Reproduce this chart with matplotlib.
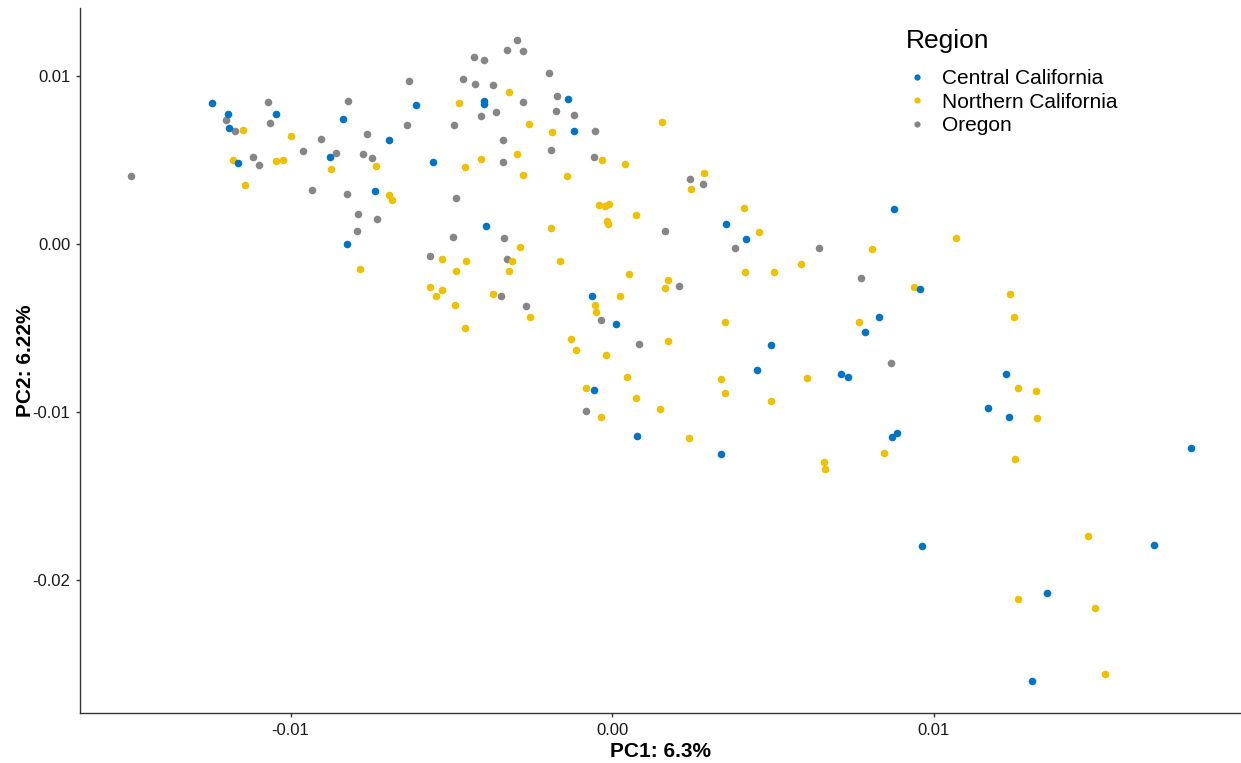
import matplotlib
matplotlib.use('Agg')
import matplotlib.pyplot as plt
from matplotlib.lines import Line2D

plt.rcParams['font.family'] = ['Liberation Sans', 'DejaVu Sans']

# PCA 坐标 (PC1, PC2)
central_x = [-0.01245, -0.01195, -0.01192, -0.01045, -0.01164, -0.00878, -0.00836, -0.00693,
             -0.00611, -0.00737, -0.00824, -0.00558, -0.00400, -0.00400, -0.00393, -0.00138,
             -0.00119, -0.00063, 0.00013, -0.00056, 0.00078, 0.00877, 0.00353, 0.00415,
             0.00958, 0.00830, 0.00786, 0.00493, 0.00450, 0.00712, 0.00733, 0.00338,
             0.00870, 0.00886, 0.01224, 0.01170, 0.01233, 0.01801, 0.00965, 0.01685,
             0.01352, 0.01305]
central_y = [0.00843, 0.00777, 0.00694, 0.00777, 0.00484, 0.00521, 0.00748, 0.00623,
             0.00831, 0.00317, 0.00002, 0.00492, 0.00851, 0.00835, 0.00107, 0.00867,
             0.00676, -0.00310, -0.00476, -0.00866, -0.01141, 0.00210, 0.00121, 0.00032,
             -0.00268, -0.00435, -0.00524, -0.00598, -0.00746, -0.00770, -0.00788, -0.01246,
             -0.01145, -0.01123, -0.00770, -0.00973, -0.01026, -0.01213, -0.01798, -0.01792,
             -0.02074, -0.02599]

northern_x = [-0.01148, -0.00999, -0.01180, -0.01045, -0.01023, -0.00874, -0.00734, -0.01142,
              -0.00693, -0.00686, -0.00784, -0.00530, -0.00487, -0.00453, -0.00477, -0.00459,
              -0.00409, -0.00322, -0.00296, -0.00278, -0.00259, -0.00288, -0.00311, -0.00321,
              -0.00161, -0.00189, -0.00186, -0.00141, -0.00031, -0.00041, -0.00022, -0.00009,
              -0.00015, -0.00012, 0.00052, 0.00175, 0.00165, -0.00565, -0.00530, -0.00549,
              -0.00371, -0.00490, -0.00256, -0.00456, -0.00053, -0.00050, 0.00024, -0.00128,
              -0.00112, -0.00018, 0.00175, 0.00047, -0.00081, 0.00075, 0.00150, -0.00035,
              0.00240, 0.00041, 0.00285, 0.00246, 0.00075, 0.00409, 0.00456, 0.01070,
              0.00809, 0.00412, 0.00505, 0.00587, 0.00939, 0.00350, 0.00767, 0.00338,
              0.00350, 0.00606, 0.00493, 0.00845, 0.00659, 0.00662, 0.01238, 0.01249,
              0.01261, 0.01317, 0.01320, 0.01252, 0.01479, 0.01263, 0.01501, 0.01532,
              0.00155]
northern_y = [0.00682, 0.00646, 0.00504, 0.00498, 0.00504, 0.00448, 0.00466, 0.00353,
              0.00294, 0.00262, -0.00147, -0.00089, -0.00156, -0.00101, 0.00843, 0.00462,
              0.00510, 0.00905, 0.00538, 0.00413, 0.00718, -0.00018, -0.00101, -0.00156,
              -0.00101, 0.00097, 0.00670, 0.00407, 0.00502, 0.00234, 0.00228, 0.00240,
              0.00139, 0.00119, -0.00179, -0.00214, -0.00262, -0.00256, -0.00274, -0.00310,
              -0.00298, -0.00363, -0.00435, -0.00500, -0.00363, -0.00405, -0.00310, -0.00566,
              -0.00631, -0.00657, -0.00577, -0.00788, -0.00854, -0.00913, -0.00979, -0.01026,
              -0.01153, 0.00478, 0.00424, 0.00327, 0.00173, 0.00216, 0.00073, 0.00038,
              -0.00030, -0.00167, -0.00167, -0.00119, -0.00256, -0.00464, -0.00464, -0.00800,
              -0.00883, -0.00794, -0.00931, -0.01241, -0.01294, -0.01338, -0.00298, -0.00435,
              -0.00854, -0.00871, -0.01032, -0.01278, -0.01738, -0.02110, -0.02163, -0.02558,
              0.00728]

oregon_x = [-0.01201, -0.01173, -0.01070, -0.01064, -0.01495, -0.01117, -0.01098, -0.00961,
            -0.00905, -0.00858, -0.00821, -0.00762, -0.00774, -0.00748, -0.00633, -0.00639,
            -0.00933, -0.00824, -0.00790, -0.00731, -0.00793, -0.00484, -0.00496, -0.00565,
            -0.00493, -0.00465, -0.00431, -0.00400, -0.00425, -0.00409, -0.00372, -0.00361,
            -0.00328, -0.00296, -0.00278, -0.00340, -0.00340, -0.00278, -0.00337, -0.00327,
            -0.00197, -0.00172, -0.00175, -0.00119, -0.00190, -0.00054, -0.00057, 0.00165,
            0.00209, -0.00346, -0.00268, -0.00035, 0.00084, -0.00081, 0.00243, 0.00282,
            0.00381, 0.00643, 0.00774, 0.00868]
oregon_y = [0.00742, 0.00676, 0.00849, 0.00724, 0.00407, 0.00521, 0.00472, 0.00557,
            0.00629, 0.00545, 0.00855, 0.00658, 0.00538, 0.00516, 0.00970, 0.00712,
            0.00323, 0.00299, 0.00180, 0.00151, 0.00079, 0.00276, 0.00042, -0.00070,
            0.00712, 0.00986, 0.01113, 0.01099, 0.00952, 0.00766, 0.00946, 0.00789,
            0.01155, 0.01214, 0.01149, 0.00623, 0.00490, 0.00845, 0.00036, -0.00089,
            0.01018, 0.00885, 0.00795, 0.00771, 0.00563, 0.00676, 0.00521, 0.00077,
            -0.00250, -0.00310, -0.00369, -0.00452, -0.00592, -0.00992, 0.00389, 0.00359,
            -0.00022, -0.00022, -0.00202, -0.00705]

regions = ['Central California', 'Northern California', 'Oregon']
colors = ['#0073C2', '#EFC000', '#868686']

fig = plt.figure(figsize=(12.41, 7.63), dpi=100)
ax = fig.add_axes([80 / 1241, 50 / 763, 1 - 80 / 1241, 705 / 763])

# 先画灰色、黄色，再画蓝色
ax.scatter(oregon_x, oregon_y, s=30, color=colors[2], linewidths=0, zorder=2)
ax.scatter(northern_x, northern_y, s=30, color=colors[1], linewidths=0, zorder=3)
ax.scatter(central_x, central_y, s=30, color=colors[0], linewidths=0, zorder=4)

ax.set_xlim(-0.01655, 0.01956)
ax.set_ylim(-0.02789, 0.01406)
ax.set_xticks([-0.01, 0.0, 0.01])
ax.set_xticklabels(['-0.01', '0.00', '0.01'])
ax.set_yticks([-0.02, -0.01, 0.0, 0.01])
ax.set_yticklabels(['-0.02', '-0.01', '0.00', '0.01'])

for side in ['top', 'right']:
    ax.spines[side].set_visible(False)
for side in ['left', 'bottom']:
    ax.spines[side].set_linewidth(1.0)
    ax.spines[side].set_color('#333333')
ax.tick_params(axis='both', length=3, width=1.0, color='#333333',
               labelsize=12, labelcolor='#1a1a1a', pad=4)

ax.set_xlabel('PC1: 6.3%', fontsize=15, fontweight='bold', labelpad=3)
ax.set_ylabel('PC2: 6.22%', fontsize=15, fontweight='bold', labelpad=-2)

# 图例
fig.text(906 / 1241, 1 - 41 / 763, 'Region', fontsize=19, ha='left', va='center')
handles = [Line2D([], [], marker='o', linestyle='', markersize=4.5,
                  markerfacecolor=c, markeredgewidth=0) for c in colors]
leg = fig.legend(handles, regions, loc='upper left',
                 bbox_to_anchor=(896 / 1241, 1 - 59 / 763), frameon=False,
                 fontsize=15, handlelength=1.0, handletextpad=0.7,
                 labelspacing=0.21, borderpad=0)

fig.savefig('out.png', dpi=100)
